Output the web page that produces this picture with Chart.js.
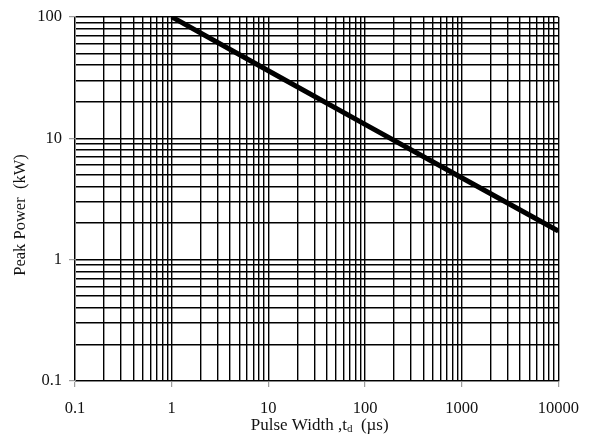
<!DOCTYPE html>
<html>
<head>
<meta charset="utf-8">
<script src="https://cdn.jsdelivr.net/npm/chart.js@4"></script>
<style>
  body { margin: 0; background: #fff; }
  #chart { display: block; }
</style>
</head>
<body>
<canvas id="chart" width="591" height="439"></canvas>
<script>
// values
const pulseWidth = [1, 10, 100, 1000, 10000];
const peakPower = [100, 36, 13, 4.73, 1.72];
const xTickLabels = ['0.1', '1', '10', '100', '1000', '10000'];
const yTickLabels = ['0.1', '1', '10', '100'];

const serif = '"Liberation Serif", "Times New Roman", serif';

function isDecade(v) {
    const l = Math.log10(v);
    return Math.abs(l - Math.round(l)) < 1e-9;
}

function logTicks(min, max) {
    const out = [];
    for (let e = Math.round(Math.log10(min)); e < Math.round(Math.log10(max)); e++) {
        for (let m = 1; m <= 9; m++) out.push({ value: +(m * Math.pow(10, e)).toPrecision(6) });
    }
    out.push({ value: max });
    return out;
}

function labelFor(list) {
    return function(value) {
        if (!isDecade(value)) return '';
        const s = list.find(t => Math.abs(parseFloat(t) - value) < value * 1e-6);
        return s === undefined ? '' : s;
    };
}

// axis titles drawn by hand so the subscript d can be done
const titlesPlugin = {
    id: 'titles',
    afterDraw(chart) {
        const ctx = chart.ctx;
        const area = chart.chartArea;
        ctx.save();
        ctx.fillStyle = '#111';
        ctx.textBaseline = 'middle';

        // y title
        ctx.font = '16.5px ' + serif;
        ctx.translate(21, 215);
        ctx.rotate(-Math.PI / 2);
        ctx.textAlign = 'center';
        ctx.fillText('Peak Power  (kW)', 0, 0);
        ctx.setTransform(1, 0, 0, 1, 0, 0);

        // x title with subscript
        const a = 'Pulse Width ,t';
        const sub = 'd';
        const b = '  (\u00b5s)';
        ctx.font = '17px ' + serif;
        const wa = ctx.measureText(a).width;
        const wb = ctx.measureText(b).width;
        ctx.font = '11px ' + serif;
        const ws = ctx.measureText(sub).width;
        const total = wa + ws + wb;
        let x = (area.left + area.right) / 2 + 3 - total / 2;
        const y = 426;
        ctx.textAlign = 'left';
        ctx.font = '17px ' + serif;
        ctx.fillText(a, x, y);
        x += wa;
        ctx.font = '11px ' + serif;
        ctx.fillText(sub, x, y + 3);
        x += ws;
        ctx.font = '17px ' + serif;
        ctx.fillText(b, x, y);
        ctx.restore();
    }
};

const tickColor = c => isDecade(c.tick.value) ? '#888' : 'rgba(0,0,0,0)';

new Chart(document.getElementById('chart'), {
    type: 'line',
    data: {
        datasets: [{
            data: pulseWidth.map((x, i) => ({ x: x, y: peakPower[i] })),
            borderColor: '#000',
            borderWidth: 5,
            pointRadius: 0,
            tension: 0,
            fill: false
        }]
    },
    options: {
        responsive: false,
        animation: false,
        layout: { padding: { top: 15, right: 30, left: 0, bottom: 0 } },
        plugins: {
            legend: { display: false },
            tooltip: { enabled: false }
        },
        scales: {
            x: {
                type: 'logarithmic',
                min: 0.1,
                max: 10000,
                afterBuildTicks: s => { s.ticks = logTicks(0.1, 10000); },
                afterFit: s => { s.height = 58; },
                grid: {
                    color: '#000',
                    lineWidth: 1.4,
                    tickLength: 6,
                    tickColor: tickColor,
                    tickWidth: 1
                },
                border: { color: '#888', width: 1 },
                ticks: {
                    autoSkip: false,
                    maxRotation: 0,
                    padding: 12,
                    color: '#111',
                    font: { family: serif, size: 16.5 },
                    callback: labelFor(xTickLabels)
                }
            },
            y: {
                type: 'logarithmic',
                min: 0.1,
                max: 100,
                afterBuildTicks: s => { s.ticks = logTicks(0.1, 100); },
                afterFit: s => { s.width = 75; },
                grid: {
                    color: '#000',
                    lineWidth: 1.4,
                    tickLength: 6,
                    tickColor: tickColor,
                    tickWidth: 1
                },
                border: { color: '#888', width: 1 },
                ticks: {
                    autoSkip: false,
                    padding: 7,
                    color: '#111',
                    font: { family: serif, size: 16.5 },
                    callback: labelFor(yTickLabels)
                }
            }
        }
    },
    plugins: [titlesPlugin]
});
</script>
</body>
</html>
